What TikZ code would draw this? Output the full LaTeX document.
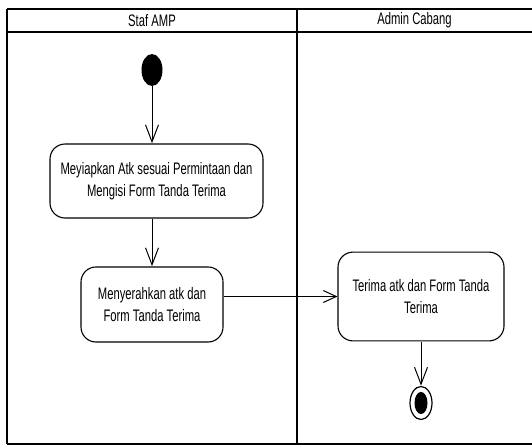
\documentclass[tikz,border=0pt]{standalone}
\usepackage{fontspec}
\setmainfont{Liberation Sans}
\usetikzlibrary{arrows.meta}

\begin{document}
\begin{tikzpicture}[x=1pt,y=-1pt,
  txt/.style={yscale=1.48, font=\fontsize{11.25}{14.9}\selectfont},
  act/.style={txt, draw, line width=1.1pt, rounded corners=15pt, align=center, inner sep=2pt},
  flow/.style={-{Straight Barb[length=17pt,width=13pt]}, line width=1pt},
  flowx/.style={-{Straight Barb[length=13pt,width=12pt]}, line width=1pt}]
\useasboundingbox (0,0) rectangle (532,447);
\draw[line width=2.2pt] (7,9) -- (532,9);
\draw[line width=2.2pt] (7,31.7) -- (532,31.7);
\draw[line width=2.2pt] (7,444) -- (532,444);
\draw[line width=2.2pt] (7,9) -- (7,444);
\draw[line width=2.2pt] (297.3,9) -- (297.3,444);
\node[txt](staf) at (152,20.5){Staf AMP};
\node[txt](admin) at (414.5,20.5){Admin Cabang};
\node[circle, fill, inner sep=0pt, minimum size=21pt, yscale=1.52](start) at (152,70){};
\node[act, minimum width=213pt, minimum height=50pt](siap) at (156.5,181){Meyiapkan Atk sesuai Permintaan dan\\Mengisi Form Tanda Terima};
\node[act, minimum width=142pt, minimum height=50.7pt](serah) at (152,304.5){Menyerahkan atk dan\\Form Tanda Terima};
\node[act, minimum width=166pt, minimum height=60pt](terima) at (421,296.5){Terima atk dan Form Tanda\\Terima};
\node[circle, draw, line width=1.2pt, inner sep=0pt, minimum size=22pt, yscale=1.5](end) at (421,403){};
\node[circle, fill, inner sep=0pt, minimum size=13pt, yscale=1.7](endin) at (421,403){};
\draw[flow] (start) -- (start |- siap.north);
\draw[flow] (serah |- siap.south) -- (serah.north);
\draw[flowx] (terima.west -| serah.east) -- (terima.west);
\draw[flow] (terima.south) -- (end.north);
\end{tikzpicture}
\end{document}
